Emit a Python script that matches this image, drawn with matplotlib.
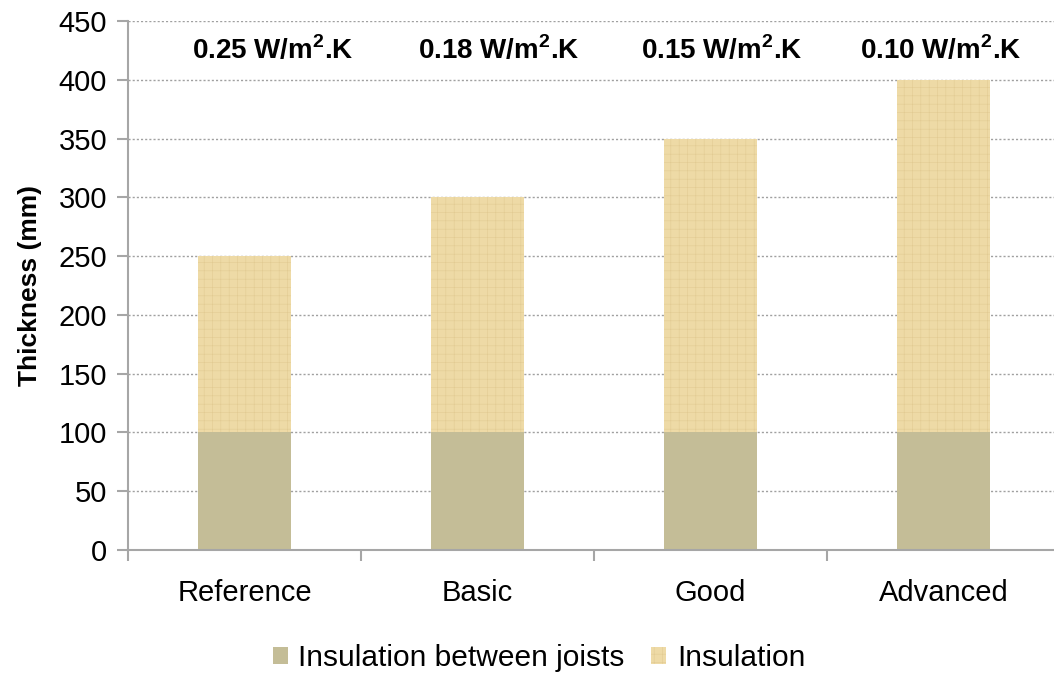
import matplotlib.pyplot as plt
from matplotlib.patches import Patch

plt.rcParams['font.family'] = ['Liberation Sans', 'DejaVu Sans']
plt.rcParams['mathtext.fontset'] = 'custom'
plt.rcParams['mathtext.rm'] = 'Liberation Sans'
plt.rcParams['mathtext.bf'] = 'Liberation Sans:bold'
plt.rcParams['hatch.linewidth'] = 0.4

categories = ['Reference', 'Basic', 'Good', 'Advanced']
between_joists = [100, 100, 100, 100]
insulation = [150, 200, 250, 300]
u_values = ['0.25', '0.18', '0.15', '0.10']

# text boxes sit a little right of the bar centres
label_x = [0.12, 1.09, 2.05, 2.99]

JOIST_COLOR = '#C4BD97'
INSUL_COLOR = '#EEDAA6'
INSUL_GRAIN = '#E2CB93'
AXIS_GRAY = '#A6A6A6'

fig = plt.figure(figsize=(10.54, 6.75), dpi=100)
ax = fig.add_axes([128 / 1054, 125 / 675, 932 / 1054, 529 / 675])

x = list(range(len(categories)))
ax.bar(x, between_joists, width=0.4, color=JOIST_COLOR, linewidth=0, zorder=2)
ax.bar(x, insulation, width=0.4, bottom=between_joists, color=INSUL_COLOR,
       edgecolor=INSUL_GRAIN, hatch='++', linewidth=0, zorder=2)

for lx, u in zip(label_x, u_values):
    ax.text(lx, 425, u + r' W/m$^{\mathbf{2}}$.K', ha='center', va='center',
            fontsize=20, fontweight='bold')

ax.set_xlim(-0.5, len(categories) - 0.5)
ax.set_ylim(0, 450)
ax.set_yticks(range(0, 451, 50))
ax.set_xticks(x)
ax.set_xticklabels(categories)
ax.set_xticks([i + 0.5 for i in range(-1, len(categories))], minor=True)
ax.tick_params(axis='x', which='major', length=0, pad=21, labelsize=21)
ax.tick_params(axis='x', which='minor', length=8, color=AXIS_GRAY, width=1.5, direction='out')
ax.tick_params(axis='y', length=8, color=AXIS_GRAY, width=1.5, labelsize=21, pad=7)

ax.grid(axis='y', linestyle=(0, (1.5, 1.5)), color='#A0A0A0', linewidth=1, zorder=0)
ax.set_axisbelow(True)
for side in ('top', 'right'):
    ax.spines[side].set_visible(False)
for side in ('left', 'bottom'):
    ax.spines[side].set_color(AXIS_GRAY)
    ax.spines[side].set_linewidth(1.5)

ax.set_ylabel('Thickness (mm)', fontsize=19, fontweight='bold', labelpad=12)

handles = [Patch(facecolor=JOIST_COLOR, linewidth=0),
           Patch(facecolor=INSUL_COLOR, edgecolor=INSUL_GRAIN, hatch='++', linewidth=0)]
fig.legend(handles, ['Insulation between joists', 'Insulation'], loc='center',
           bbox_to_anchor=(539 / 1054, 17 / 675), ncol=2, frameon=False, fontsize=21.5,
           handlelength=0.5, handleheight=0.5, handletextpad=0.35, columnspacing=0.9)

fig.savefig('out.png', dpi=100)
